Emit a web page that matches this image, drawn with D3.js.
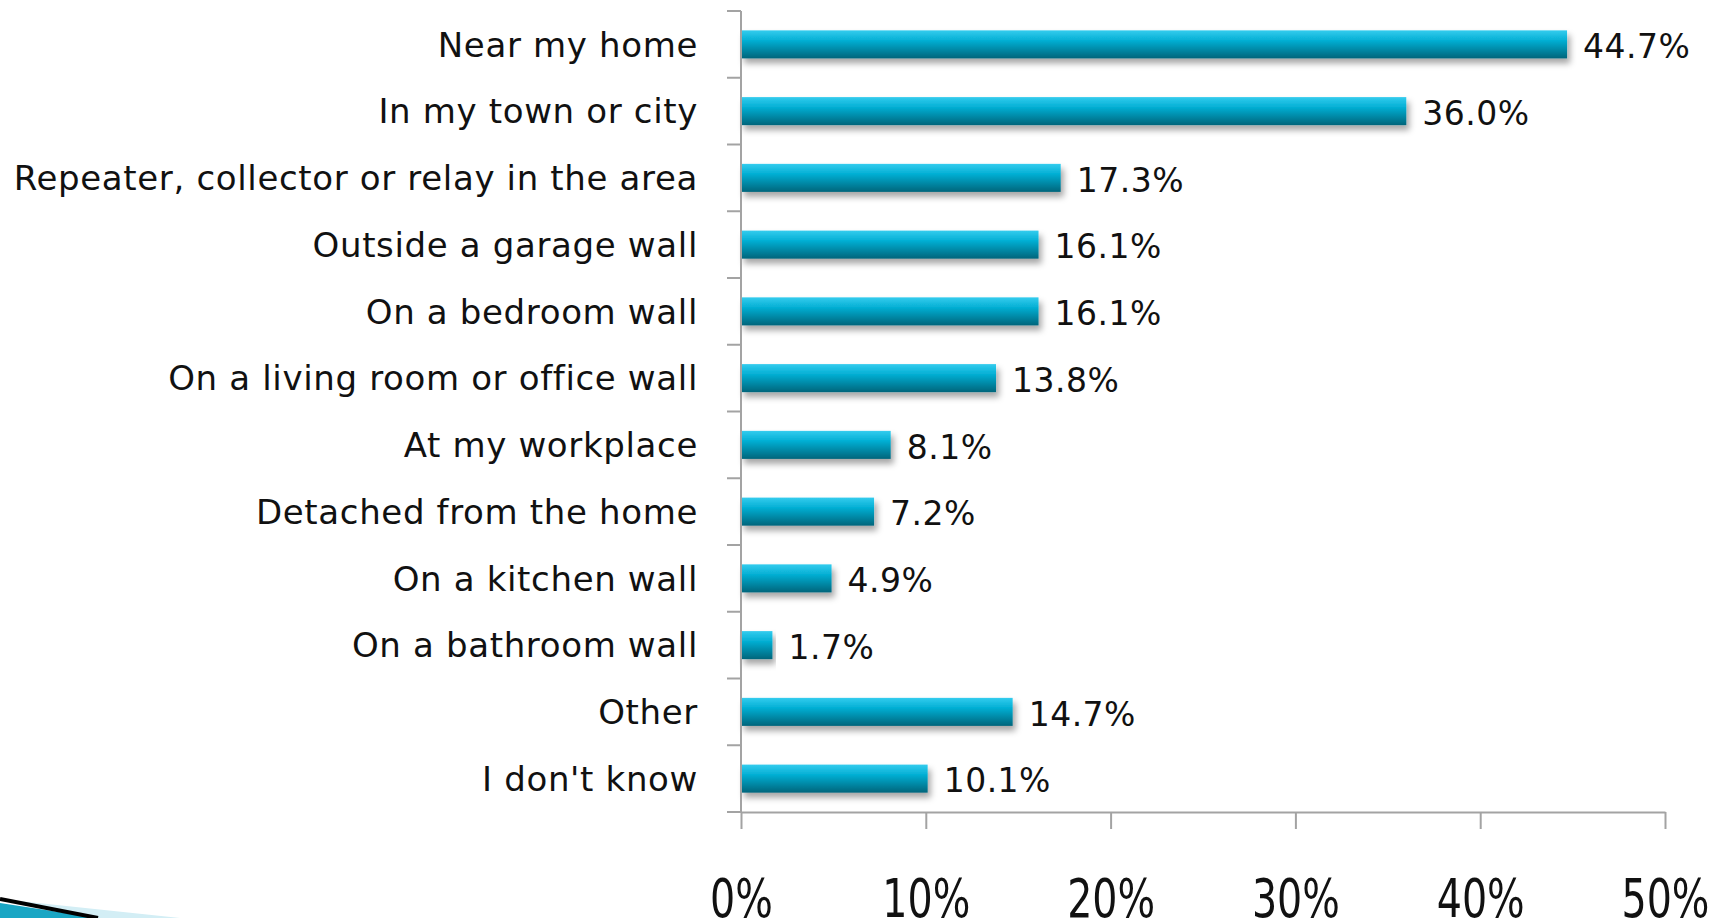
<!DOCTYPE html>
<html>
<head>
<meta charset="utf-8">
<script src="https://cdn.jsdelivr.net/npm/d3@7"></script>
<style>
  html, body { margin: 0; padding: 0; background: #fff; overflow: hidden; }
  text { font-family: "DejaVu Sans", sans-serif; fill: #111; }
</style>
</head>
<body>
<div id="chart"></div>
<script>
var categories = ["Near my home", "In my town or city", "Repeater, collector or relay in the area",
    "Outside a garage wall", "On a bedroom wall", "On a living room or office wall",
    "At my workplace", "Detached from the home", "On a kitchen wall", "On a bathroom wall",
    "Other", "I don't know"];
var values = [44.7, 36.0, 17.3, 16.1, 16.1, 13.8, 8.1, 7.2, 4.9, 1.7, 14.7, 10.1];
var tickValues = [0, 10, 20, 30, 40, 50];

var W = 1735, H = 918;
var margin = {top: 11, left: 741, right: 70, bottom: 106};

var svg = d3.select("#chart").append("svg")
    .attr("width", W)
    .attr("height", H);

// gradient + shadow for bars
var defs = svg.append("defs");
var grad = defs.append("linearGradient")
    .attr("id", "barGrad")
    .attr("x1", 0).attr("y1", 0).attr("x2", 0).attr("y2", 1);
grad.append("stop").attr("offset", "0%").attr("stop-color", "#34ccee");
grad.append("stop").attr("offset", "35%").attr("stop-color", "#05b0d5");
grad.append("stop").attr("offset", "100%").attr("stop-color", "#01657b");

var shadow = defs.append("filter").attr("id", "shadow")
    .attr("x", "-5%").attr("y", "-30%").attr("width", "115%").attr("height", "180%");
shadow.append("feDropShadow")
    .attr("dx", 3).attr("dy", 5).attr("stdDeviation", 3)
    .attr("flood-color", "#000").attr("flood-opacity", 0.35);

var x = d3.scaleLinear()
    .domain([0, 50])
    .range([margin.left, 1665]);

var y = d3.scaleBand()
    .domain(categories)
    .range([margin.top, H - margin.bottom])
    .paddingInner(0.58)
    .paddingOuter(0.29);

var step = y.step();
var bandTop = function (c) { return y(c) - (step - y.bandwidth()) / 2; };

// bars
svg.append("g").selectAll("rect")
    .data(values)
    .enter().append("rect")
    .attr("x", x(0))
    .attr("y", function (d, i) { return y(categories[i]); })
    .attr("width", function (d) { return x(d) - x(0); })
    .attr("height", y.bandwidth())
    .attr("fill", "url(#barGrad)")
    .attr("filter", "url(#shadow)");

// axes
var axisColor = "#a3a3a3";
var y0 = y.range()[0], y1 = y.range()[1];

svg.append("line")
    .attr("x1", x(0)).attr("x2", x(0))
    .attr("y1", y0).attr("y2", y1)
    .attr("stroke", axisColor).attr("stroke-width", 2);

// category ticks at band boundaries
var bounds = categories.map(bandTop);
bounds.push(y1);
svg.append("g").selectAll("line")
    .data(bounds)
    .enter().append("line")
    .attr("x1", x(0) - 14).attr("x2", x(0))
    .attr("y1", function (d) { return d; })
    .attr("y2", function (d) { return d; })
    .attr("stroke", axisColor).attr("stroke-width", 2);

var xAxis = d3.axisBottom(x)
    .tickValues(tickValues)
    .tickSize(17)
    .tickSizeOuter(0)
    .tickFormat(function (d) { return d + "%"; });

var gx = svg.append("g")
    .attr("transform", "translate(0," + y1 + ")")
    .call(xAxis);
gx.select(".domain").attr("stroke", axisColor).attr("stroke-width", 2);
gx.selectAll(".tick line").attr("stroke", axisColor).attr("stroke-width", 2);
gx.selectAll(".tick text")
    .attr("y", 0)
    .attr("dy", 0)
    .attr("transform", "translate(0,105) scale(1,1.2)")
    .style("font-size", "44px")
    .style("font-family", "\"DejaVu Sans Condensed\", \"DejaVu Sans\", sans-serif")
    .attr("fill", "#111");

// category labels
svg.append("g").selectAll("text")
    .data(categories)
    .enter().append("text")
    .attr("x", 698)
    .attr("y", function (d) { return y(d) + y.bandwidth() / 2; })
    .attr("dy", "0.36em")
    .attr("text-anchor", "end")
    .style("font-size", "34px")
    .style("letter-spacing", "0.65px")
    .text(function (d) { return d; });

// value labels
svg.append("g").selectAll("text")
    .data(values)
    .enter().append("text")
    .attr("x", function (d) { return x(d) + 16; })
    .attr("y", function (d, i) { return y(categories[i]) + y.bandwidth() / 2; })
    .attr("dy", "0.42em")
    .style("font-size", "33px")
    .style("letter-spacing", "0.5px")
    .text(function (d) { return d.toFixed(1) + "%"; });

// corner swoosh decoration
var deco = svg.append("g");
deco.append("path")
    .attr("d", "M0,903 L98,918 L0,918 Z")
    .attr("fill", "#1aa6c4");
deco.append("path")
    .attr("d", "M0,899 L180,918 L98,918 Z")
    .attr("fill", "#d3eef5");
deco.append("path")
    .attr("d", "M0,899 L98,918")
    .attr("stroke", "#000").attr("stroke-width", 4).attr("fill", "none");
</script>
</body>
</html>
